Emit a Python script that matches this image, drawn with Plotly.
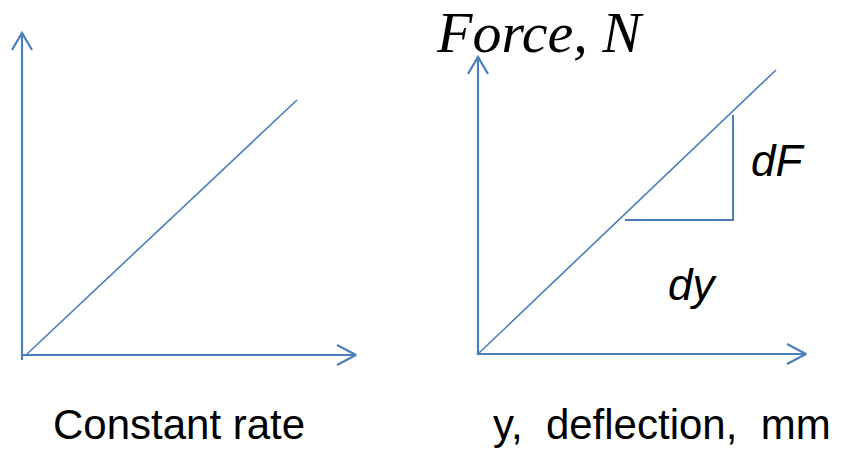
import plotly.graph_objects as go

# Diagram geometry (pixel coordinates in an 846x449 canvas, y downwards)
left_y_axis_x = [22, 22]
left_y_axis_y = [360, 33]
left_x_axis_x = [22, 356]
left_x_axis_y = [355, 355]
left_line_x = [27, 297]
left_line_y = [354, 100]

right_y_axis_x = [478, 478]
right_y_axis_y = [355, 57]
right_x_axis_x = [478, 806]
right_x_axis_y = [354, 354]
right_line_x = [478, 776]
right_line_y = [354, 70]
tri_x = [625, 733, 733]
tri_y = [220, 220, 115]

labels = ["Constant rate", "y,  deflection,  mm", "dF", "dy", "Force, N"]

BLUE = "#4a7ebb"
fig = go.Figure()

def seg(xs, ys, w=2.2):
    fig.add_trace(go.Scatter(x=xs, y=ys, mode="lines",
                             line=dict(color=BLUE, width=w),
                             hoverinfo="skip", showlegend=False))

def up_arrow(x, y):
    seg([x - 10, x, x + 10], [y + 17, y, y + 17])

def right_arrow(x, y):
    seg([x - 19, x, x - 19], [y - 10, y, y + 10])

seg(left_y_axis_x, left_y_axis_y)
up_arrow(left_y_axis_x[1], left_y_axis_y[1])
seg(left_x_axis_x, left_x_axis_y)
right_arrow(left_x_axis_x[1], left_x_axis_y[1])
seg(left_line_x, left_line_y, 1.6)

seg(right_y_axis_x, right_y_axis_y)
up_arrow(right_y_axis_x[1], right_y_axis_y[1])
seg(right_x_axis_x, right_x_axis_y)
right_arrow(right_x_axis_x[1], right_x_axis_y[1])
seg(right_line_x, right_line_y, 1.6)
seg(tri_x, tri_y, 2.0)

sans = "Liberation Sans, Arial, sans-serif"
ann = [
    dict(x=179, y=424, text=labels[0], font=dict(family=sans, size=42, color="black")),
    dict(x=662, y=424, text=labels[1].replace(" ", "&nbsp;"), font=dict(family=sans, size=42, color="black")),
    dict(x=777, y=160, text="<i>" + labels[2] + "</i>", font=dict(family=sans, size=44, color="black")),
    dict(x=692, y=284, text="<i>" + labels[3] + "</i>", font=dict(family=sans, size=44, color="black")),
    dict(x=540, y=32, text="<i>" + labels[4].replace(" ", "&nbsp;") + "</i>",
         font=dict(family="Liberation Serif, Times New Roman, serif", size=58, color="black")),
]
for a in ann:
    fig.add_annotation(xref="x", yref="y", showarrow=False,
                       xanchor="center", yanchor="middle", **a)

fig.update_layout(width=846, height=449, margin=dict(l=0, r=0, t=0, b=0),
                  paper_bgcolor="white", plot_bgcolor="white",
                  xaxis=dict(range=[0, 846], visible=False, fixedrange=True),
                  yaxis=dict(range=[449, 0], visible=False, fixedrange=True))
fig.write_html("out.html", config={"displayModeBar": False, "staticPlot": True},
               post_script="document.body.style.margin='0px';document.body.style.overflow='hidden';")
